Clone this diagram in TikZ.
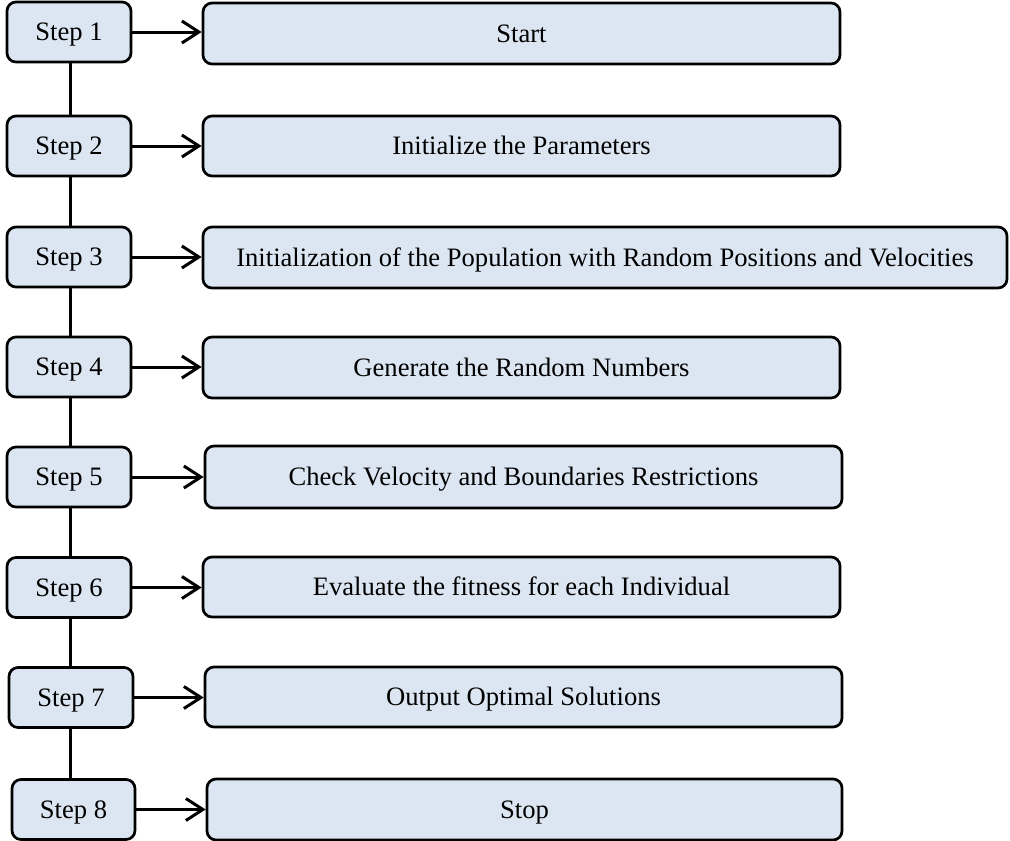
\documentclass[tikz,border=0pt]{standalone}
\usepackage{fontspec}
\setmainfont{Liberation Serif}
\usetikzlibrary{arrows.meta}
\definecolor{boxfill}{HTML}{DCE6F2}
\tikzset{
  box/.style={draw=black, fill=boxfill, line width=2.7pt, rounded corners=9pt, inner sep=0pt,
    font=\fontsize{26.6}{30}\selectfont, text height=17pt, text depth=0pt, anchor=center},
  stepbox/.style={box, minimum width=124pt, minimum height=60pt},
  taskbox/.style={box, minimum height=61pt},
  link/.style={line width=3pt},
  flow/.style={line width=3pt, -{Straight Barb[length=17pt,width=22pt]}},
}
\begin{document}
\begin{tikzpicture}[x=1pt,y=-1pt]
\useasboundingbox (0,0) rectangle (1010,841);
% step boxes
\node[stepbox] (s1) at (69,32) {Step 1};
\node[stepbox] (s2) at (69,146) {Step 2};
\node[stepbox] (s3) at (69,257) {Step 3};
\node[stepbox] (s4) at (69,367) {Step 4};
\node[stepbox] (s5) at (69,477) {Step 5};
\node[stepbox] (s6) at (69,587.5) {Step 6};
\node[stepbox] (s7) at (71,697.5) {Step 7};
\node[stepbox, minimum width=123pt] (s8) at (73.5,809.5) {Step 8};
% task boxes
\node[taskbox, minimum width=637pt] (r1) at (521.5,33.5) {Start};
\node[taskbox, minimum width=637pt, minimum height=60pt] (r2) at (521.5,146) {Initialize the Parameters};
\node[taskbox, minimum width=804pt] (r3) at (605,257.5) {Initialization of the Population with Random Positions and Velocities};
\node[taskbox, minimum width=637pt] (r4) at (521.5,367.5) {Generate the Random Numbers};
\node[taskbox, minimum width=637pt, minimum height=62pt] (r5) at (523.5,477) {Check Velocity and Boundaries Restrictions};
\node[taskbox, minimum width=637pt, minimum height=60pt] (r6) at (521.5,587) {Evaluate the fitness for each Individual};
\node[taskbox, minimum width=637pt, minimum height=60pt] (r7) at (523.5,697) {Output Optimal Solutions};
\node[taskbox, minimum width=635pt] (r8) at (524.5,809.5) {Stop};
% vertical links
\coordinate (vx) at (70,0);
\foreach \a/\b in {s1/s2,s2/s3,s3/s4,s4/s5,s5/s6,s6/s7,s7/s8}{
  \draw[link] (vx |- \a.south) -- (vx |- \b.north);
}
% arrows
\foreach \i in {1,...,8}{
  \draw[flow] (s\i.east) -- (s\i.east -| r\i.west);
}
\end{tikzpicture}
\end{document}
